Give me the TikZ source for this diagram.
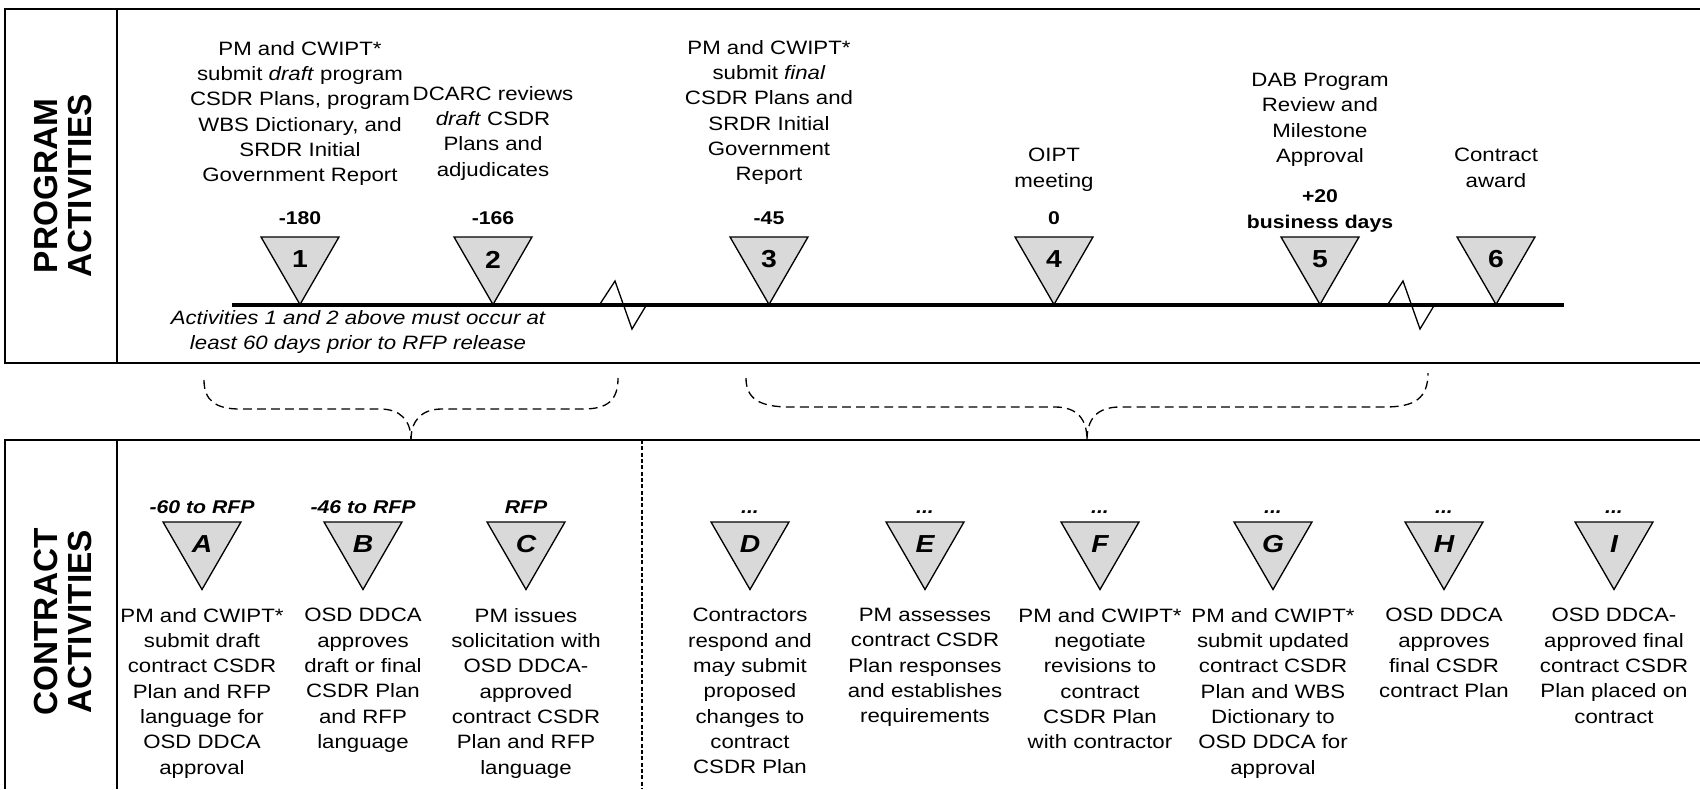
\documentclass[tikz,border=0pt]{standalone}
\usepackage{fontspec}
\usepackage{tikz}
\usetikzlibrary{shapes.geometric}
\setmainfont{Liberation Sans}[FakeStretch=1.15]
\newfontfamily\hdrfont{Liberation Sans}
\definecolor{silverfill}{RGB}{217, 217, 217}

\begin{document}
\begin{tikzpicture}[
            milestone/.style={regular polygon, regular polygon sides=3, shape border rotate=180,
                              draw=black, fill=silverfill, line width=0.75pt, minimum size=1.80cm,
                              inner sep=0pt, font=\fontsize{14}{14}\selectfont\bfseries},
            contractmark/.style={milestone, font=\fontsize{14}{14}\selectfont\bfseries\itshape},
            daylabel/.style={inner sep=0pt, align=center, font=\fontsize{10.5}{14.5}\selectfont\bfseries},
            contractlabel/.style={daylabel, font=\fontsize{10.5}{14.5}\selectfont\bfseries\itshape},
            activity/.style={inner sep=0pt, align=center, anchor=north, font=\fontsize{11}{14.4}\selectfont},
            remark/.style={inner sep=0pt, align=center, font=\fontsize{11}{14.4}\selectfont\itshape},
            header/.style={rotate=90, align=center, inner sep=0pt, font=\hdrfont\fontsize{19}{19}\selectfont\bfseries},
            panelline/.style={line width=1.1pt},
            timeline/.style={line width=1.8pt},
            breakmark/.style={line width=0.75pt, line join=miter},
            bracket/.style={line width=0.75pt, dash pattern=on 5pt off 3pt},
            splitline/.style={line width=0.6pt, dash pattern=on 2.3pt off 1.3pt}]
            \useasboundingbox (0.00, 0.00) rectangle (34.00,-15.78);
            \draw[panelline]  (34.00,-0.18) -- (0.10,-0.18) -- (0.10,-7.26) -- (34.00,-7.26);
            \draw[panelline]  ( 2.34,-0.18) -- (2.34,-7.26);
            \draw[panelline]  (34.00,-8.80) -- (0.10,-8.80) -- (0.10,-15.78);
            \draw[panelline]  ( 2.34,-8.80) -- (2.34,-15.78);
            \draw[splitline]  (12.84,-8.80) -- (12.84,-15.78);
            \node[header]  (hprog)  at ( 1.26,-3.72) {PROGRAM\\ACTIVITIES};
            \node[header]  (hcont)  at ( 1.26,-12.44) {CONTRACT\\ACTIVITIES};
            \draw[timeline]   ( 4.64,-6.10) -- (31.28,-6.10);
            \draw[breakmark]  (12.00,-6.08) -- (12.30,-5.62) -- (12.64,-6.58) -- (12.94,-6.08);
            \draw[breakmark]  (27.76,-6.08) -- (28.06,-5.62) -- (28.40,-6.58) -- (28.70,-6.08);
            \node[milestone] (m1) at ( 6.00,-5.19) {1};
            \node[milestone] (m2) at ( 9.86,-5.19) {2};
            \node[milestone] (m3) at (15.38,-5.19) {3};
            \node[milestone] (m4) at (21.08,-5.19) {4};
            \node[milestone] (m5) at (26.40,-5.19) {5};
            \node[milestone] (m6) at (29.92,-5.19) {6};
            \node[daylabel]  (d1) at ( 6.00,-4.36) {-180};
            \node[daylabel]  (d2) at ( 9.86,-4.36) {-166};
            \node[daylabel]  (d3) at (15.38,-4.36) {-45};
            \node[daylabel]  (d4) at (21.08,-4.36) {0};
            \node[daylabel]  (d5) at (26.40,-4.22) {+20\\business days};
            \node[activity]  (p1) at ( 6.00,-0.82) {PM and CWIPT*\\submit \textit{draft} program\\CSDR Plans, program\\WBS Dictionary, and\\SRDR Initial\\Government Report};
            \node[activity]  (p2) at ( 9.86,-1.72) {DCARC reviews\\\textit{draft} CSDR\\Plans and\\adjudicates};
            \node[activity]  (p3) at (15.38,-0.80) {PM and CWIPT*\\submit \textit{final}\\CSDR Plans and\\SRDR Initial\\Government\\Report};
            \node[activity]  (p4) at (21.08,-2.96) {OIPT\\meeting};
            \node[activity]  (p5) at (26.40,-1.46) {DAB Program\\Review and\\Milestone\\Approval};
            \node[activity]  (p6) at (29.92,-2.96) {Contract\\award};
            \node[remark]    (rule) at ( 7.16,-6.64) {Activities 1 and 2 above must occur at\\least 60 days prior to RFP release};
            \draw[bracket] ( 4.08,-7.60) .. controls ( 4.08,-8.00) and ( 4.30,-8.18) .. ( 4.80,-8.18) -- ( 7.60,-8.18)
                               .. controls ( 8.00,-8.18) and ( 8.22,-8.40) .. ( 8.22,-8.80);
            \draw[bracket] ( 8.22,-8.80) .. controls ( 8.22,-8.40) and ( 8.44,-8.18) .. ( 8.84,-8.18) -- (11.66,-8.18)
                               .. controls (12.16,-8.18) and (12.36,-8.00) .. (12.36,-7.56);
            \draw[bracket] (14.92,-7.56) .. controls (14.92,-7.98) and (15.20,-8.14) .. (15.80,-8.14) -- (21.10,-8.14)
                               .. controls (21.56,-8.14) and (21.74,-8.40) .. (21.74,-8.80);
            \draw[bracket] (21.74,-8.80) .. controls (21.74,-8.40) and (21.92,-8.14) .. (22.40,-8.14) -- (27.70,-8.14)
                               .. controls (28.30,-8.14) and (28.56,-7.96) .. (28.56,-7.46);
            \node[contractmark]  (cA) at ( 4.04,-10.89) {A};
            \node[contractmark]  (cB) at ( 7.26,-10.89) {B};
            \node[contractmark]  (cC) at (10.52,-10.89) {C};
            \node[contractmark]  (cD) at (15.00,-10.89) {D};
            \node[contractmark]  (cE) at (18.50,-10.89) {E};
            \node[contractmark]  (cF) at (22.00,-10.89) {F};
            \node[contractmark]  (cG) at (25.46,-10.89) {G};
            \node[contractmark]  (cH) at (28.88,-10.89) {H};
            \node[contractmark]  (cI) at (32.28,-10.89) {I};
            \node[contractlabel] (kA) at ( 4.04,-10.14) {-60 to RFP};
            \node[contractlabel] (kB) at ( 7.26,-10.14) {-46 to RFP};
            \node[contractlabel] (kC) at (10.52,-10.14) {RFP};
            \node[contractlabel] (kD) at (15.00,-10.24) {...};
            \node[contractlabel] (kE) at (18.50,-10.24) {...};
            \node[contractlabel] (kF) at (22.00,-10.24) {...};
            \node[contractlabel] (kG) at (25.46,-10.24) {...};
            \node[contractlabel] (kH) at (28.88,-10.24) {...};
            \node[contractlabel] (kI) at (32.28,-10.24) {...};
            \node[activity]  (sA) at ( 4.04,-12.16) {PM and CWIPT*\\submit draft\\contract CSDR\\Plan and RFP\\language for\\OSD DDCA\\approval};
            \node[activity]  (sB) at ( 7.26,-12.16) {OSD DDCA\\approves\\draft or final\\CSDR Plan\\and RFP\\language};
            \node[activity]  (sC) at (10.52,-12.16) {PM issues\\solicitation with\\OSD DDCA-\\approved\\contract CSDR\\Plan and RFP\\language};
            \node[activity]  (sD) at (15.00,-12.16) {Contractors\\respond and\\may submit\\proposed\\changes to\\contract\\CSDR Plan};
            \node[activity]  (sE) at (18.50,-12.16) {PM assesses\\contract CSDR\\Plan responses\\and establishes\\requirements};
            \node[activity]  (sF) at (22.00,-12.16) {PM and CWIPT*\\negotiate\\revisions to\\contract\\CSDR Plan\\with contractor};
            \node[activity]  (sG) at (25.46,-12.16) {PM and CWIPT*\\submit updated\\contract CSDR\\Plan and WBS\\Dictionary to\\OSD DDCA for\\approval};
            \node[activity]  (sH) at (28.88,-12.16) {OSD DDCA\\approves\\final CSDR\\contract Plan};
            \node[activity]  (sI) at (32.28,-12.16) {OSD DDCA-\\approved final\\contract CSDR\\Plan placed on\\contract};
\end{tikzpicture}
\end{document}
